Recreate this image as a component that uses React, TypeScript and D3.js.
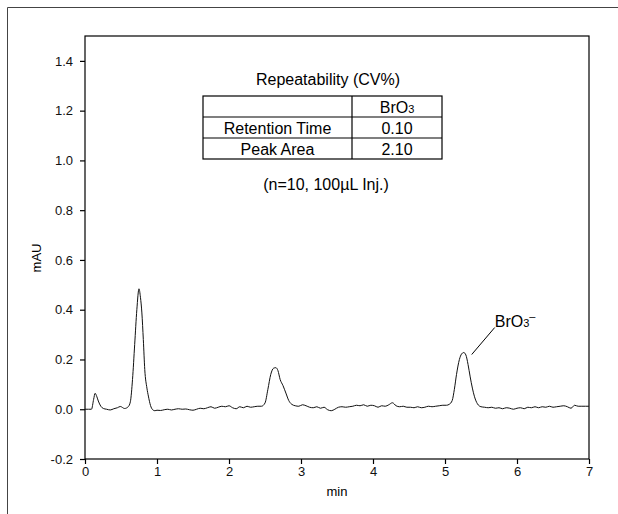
import React, { useRef, useEffect } from "react";
import * as d3 from "d3";

// retention time (min) and detector signal (mAU)
const times = [
  0.0, 0.05, 0.09, 0.12, 0.14, 0.165, 0.185, 0.22, 0.255, 0.3, 0.35, 0.4, 0.45, 0.49, 0.55,
  0.6, 0.63, 0.66, 0.69, 0.72, 0.75, 0.77, 0.79, 0.81, 0.83, 0.86, 0.88, 0.91, 0.94, 0.97,
  1.0, 1.05, 1.1, 1.15, 1.2, 1.25, 1.3, 1.35, 1.4, 1.45, 1.5, 1.55, 1.6, 1.65, 1.7, 1.75,
  1.8, 1.85, 1.9, 1.95, 2.0, 2.05, 2.1, 2.15, 2.2, 2.25, 2.3, 2.35, 2.4, 2.45, 2.5, 2.54,
  2.58, 2.62, 2.65, 2.68, 2.71, 2.75, 2.79, 2.83, 2.87, 2.92, 2.97, 3.02, 3.07, 3.12, 3.17,
  3.22, 3.27, 3.32, 3.37, 3.42, 3.47, 3.52, 3.57, 3.62, 3.67, 3.72, 3.77, 3.82, 3.87, 3.92,
  3.97, 4.02, 4.07, 4.12, 4.17, 4.22, 4.27, 4.32, 4.37, 4.42, 4.47, 4.52, 4.57, 4.62, 4.67,
  4.72, 4.77, 4.82, 4.87, 4.92, 4.97, 5.02, 5.06, 5.1, 5.13, 5.16, 5.2, 5.23, 5.26, 5.29,
  5.32, 5.35, 5.38, 5.41, 5.45, 5.5, 5.55, 5.6, 5.65, 5.7, 5.75, 5.8, 5.85, 5.9, 5.95, 6.0,
  6.05, 6.1, 6.15, 6.2, 6.25, 6.3, 6.35, 6.4, 6.45, 6.5, 6.55, 6.6, 6.65, 6.7, 6.75, 6.8,
  6.85, 6.9, 6.95, 7.0,
];
const signal = [
  0.0, 0.0, 0.0, 0.04, 0.064, 0.05, 0.033, 0.012, 0.003, 0.0, -0.003, 0.002, 0.006, 0.011, 0.003,
  0.01, 0.03, 0.12, 0.26, 0.4, 0.484, 0.45, 0.387, 0.28, 0.16, 0.085, 0.053, 0.015, -0.002, -0.006,
  -0.004, -0.005, -0.002, 0.0, -0.003, 0.0, 0.002, 0.0, 0.001, -0.002, -0.004, 0.0, 0.004, 0.002, 0.006, 0.01,
  0.004, 0.008, 0.012, 0.01, 0.014, 0.006, 0.002, 0.01, 0.006, 0.012, 0.008, 0.01, 0.012, 0.012, 0.025, 0.08,
  0.14, 0.165, 0.167, 0.155, 0.12, 0.095, 0.065, 0.035, 0.02, 0.014, 0.012, 0.018, 0.014, 0.008, 0.006,
  0.01, 0.004, 0.008, -0.002, -0.006, 0.0, 0.008, 0.01, 0.008, 0.01, 0.012, 0.016, 0.014, 0.018, 0.012,
  0.016, 0.014, 0.008, 0.014, 0.012, 0.018, 0.026, 0.014, 0.01, 0.012, 0.008, 0.008, 0.006, 0.01, 0.006,
  0.008, 0.012, 0.01, 0.012, 0.014, 0.016, 0.016, 0.02, 0.035, 0.08, 0.14, 0.2, 0.222, 0.228, 0.218,
  0.18, 0.13, 0.085, 0.05, 0.022, 0.01, 0.008, 0.006, 0.008, 0.004, 0.006, 0.002, 0.006, 0.004, 0.0, 0.004,
  0.006, 0.002, 0.008, 0.006, 0.01, 0.006, 0.01, 0.008, 0.012, 0.008, 0.01, 0.012, 0.014, 0.01, 0.004, 0.016,
  0.012, 0.012, 0.012, 0.012,
];

const xTicks = [0, 1, 2, 3, 4, 5, 6, 7];
const yTicks = [-0.2, 0.0, 0.2, 0.4, 0.6, 0.8, 1.0, 1.2, 1.4];

const tableTitle = "Repeatability (CV%)";
const rowLabels = ["Retention Time", "Peak Area"];
const rowValues = ["0.10", "2.10"];
const tableNote = "(n=10, 100\u00B5L Inj.)";

const peakLabel = { time: 5.26, value: 0.228 };

const FONT = "'Liberation Sans', Arial, sans-serif";

export default function App() {
  const chartRef = useRef<SVGSVGElement>(null);

  useEffect(() => {
    if (chartRef.current === null) return;
    const svg = d3.select(chartRef.current);
    svg.selectAll("*").remove();

    const width = 618;
    const height = 514;
    const margin = { top: 36, right: 29, bottom: 55, left: 85 };
    const innerWidth = width - margin.left - margin.right;
    const innerHeight = height - margin.top - margin.bottom;

    const xScale = d3.scaleLinear().domain([0, 7]).range([0, innerWidth]);
    const yScale = d3.scaleLinear().domain([-0.2, 1.5]).range([innerHeight, 0]);

    // outer frame (top and left only)
    svg
      .append("path")
      .attr("d", `M7.5,514 V7.5 H618`)
      .attr("fill", "none")
      .attr("stroke", "#444")
      .attr("stroke-width", 1);

    const g = svg
      .append("g")
      .attr("transform", `translate(${margin.left},${margin.top})`);

    g.append("rect")
      .attr("x", 0)
      .attr("y", 0)
      .attr("width", innerWidth)
      .attr("height", innerHeight)
      .attr("fill", "none")
      .attr("stroke", "#000")
      .attr("stroke-width", 1.2);

    const yFmt = (d: d3.NumberValue) => d3.format(".1f")(d).replace("\u2212", "-");

    const xAxis = g
      .append("g")
      .attr("transform", `translate(0,${innerHeight})`)
      .call(d3.axisBottom(xScale).tickValues(xTicks).tickFormat(d3.format("d")).tickSizeOuter(0).tickSize(5));
    const yAxis = g
      .append("g")
      .call(d3.axisLeft(yScale).tickValues(yTicks).tickFormat(yFmt).tickSizeOuter(0).tickSize(5));

    [xAxis, yAxis].forEach((ax) => {
      ax.select(".domain").remove();
      ax.selectAll("line").attr("stroke", "#000").attr("stroke-width", 1.2);
      ax.selectAll("text")
        .attr("fill", "#111")
        .style("font-family", FONT)
        .style("font-size", "13px");
    });
    yAxis.selectAll("text").attr("x", -12);
    xAxis.selectAll("text").attr("y", 8);

    g.append("text")
      .attr("x", innerWidth / 2)
      .attr("y", innerHeight + 37)
      .attr("text-anchor", "middle")
      .style("font-family", FONT)
      .style("font-size", "13px")
      .text("min");

    g.append("text")
      .attr("transform", "rotate(-90)")
      .attr("x", -222)
      .attr("y", -44)
      .attr("text-anchor", "middle")
      .style("font-family", FONT)
      .style("font-size", "13px")
      .text("mAU");

    const data = times.map((t, i) => ({ t, v: signal[i] }));
    const line = d3
      .line<{ t: number; v: number }>()
      .x((d) => xScale(d.t))
      .y((d) => yScale(d.v))
      .curve(d3.curveMonotoneX);

    g.append("path")
      .datum(data)
      .attr("d", line)
      .attr("fill", "none")
      .attr("stroke", "#111")
      .attr("stroke-width", 1);

    // peak annotation
    const px = xScale(peakLabel.time);
    const py = yScale(peakLabel.value);
    g.append("line")
      .attr("x1", px + 8)
      .attr("y1", py + 2)
      .attr("x2", px + 31)
      .attr("y2", py - 25)
      .attr("stroke", "#000")
      .attr("stroke-width", 1);
    const lbl = g
      .append("text")
      .attr("x", px + 31)
      .attr("y", py - 26)
      .style("font-family", FONT)
      .style("font-size", "16px");
    lbl.append("tspan").text("BrO");
    lbl.append("tspan").attr("font-size", "11px").text("3");
    lbl.append("tspan").attr("font-size", "11px").attr("dy", -7).text("\u2013");

    // repeatability table
    const tbl = svg.append("g");
    const tx = [203, 352, 442];
    const ty = [96, 117, 138, 159];
    tbl
      .append("text")
      .attr("x", 328)
      .attr("y", 85)
      .attr("text-anchor", "middle")
      .style("font-family", FONT)
      .style("font-size", "16px")
      .text(tableTitle);
    tbl
      .append("rect")
      .attr("x", tx[0])
      .attr("y", ty[0])
      .attr("width", tx[2] - tx[0])
      .attr("height", ty[3] - ty[0])
      .attr("fill", "none")
      .attr("stroke", "#000")
      .attr("stroke-width", 1.2);
    tbl
      .append("line")
      .attr("x1", tx[1])
      .attr("x2", tx[1])
      .attr("y1", ty[0])
      .attr("y2", ty[3])
      .attr("stroke", "#000")
      .attr("stroke-width", 1.2);
    [ty[1], ty[2]].forEach((y) =>
      tbl
        .append("line")
        .attr("x1", tx[0])
        .attr("x2", tx[2])
        .attr("y1", y)
        .attr("y2", y)
        .attr("stroke", "#000")
        .attr("stroke-width", 1.2)
    );
    const head = tbl
      .append("text")
      .attr("x", (tx[1] + tx[2]) / 2)
      .attr("y", ty[1] - 4)
      .attr("text-anchor", "middle")
      .style("font-family", FONT)
      .style("font-size", "16px");
    head.append("tspan").text("BrO");
    head.append("tspan").attr("font-size", "11px").text("3");
    rowLabels.forEach((r, i) => {
      tbl
        .append("text")
        .attr("x", (tx[0] + tx[1]) / 2)
        .attr("y", ty[i + 2] - 4)
        .attr("text-anchor", "middle")
        .style("font-family", FONT)
        .style("font-size", "16px")
        .text(r);
      tbl
        .append("text")
        .attr("x", (tx[1] + tx[2]) / 2)
        .attr("y", ty[i + 2] - 4)
        .attr("text-anchor", "middle")
        .style("font-family", FONT)
        .style("font-size", "16px")
        .text(rowValues[i]);
    });
    tbl
      .append("text")
      .attr("x", 326)
      .attr("y", 190)
      .attr("text-anchor", "middle")
      .style("font-family", FONT)
      .style("font-size", "16px")
      .text(tableNote);
  }, []);

  return (
    <svg
      ref={chartRef}
      width={618}
      height={514}
      style={{ position: "absolute", left: 0, top: 0, background: "#fff" }}
    ></svg>
  );
}
